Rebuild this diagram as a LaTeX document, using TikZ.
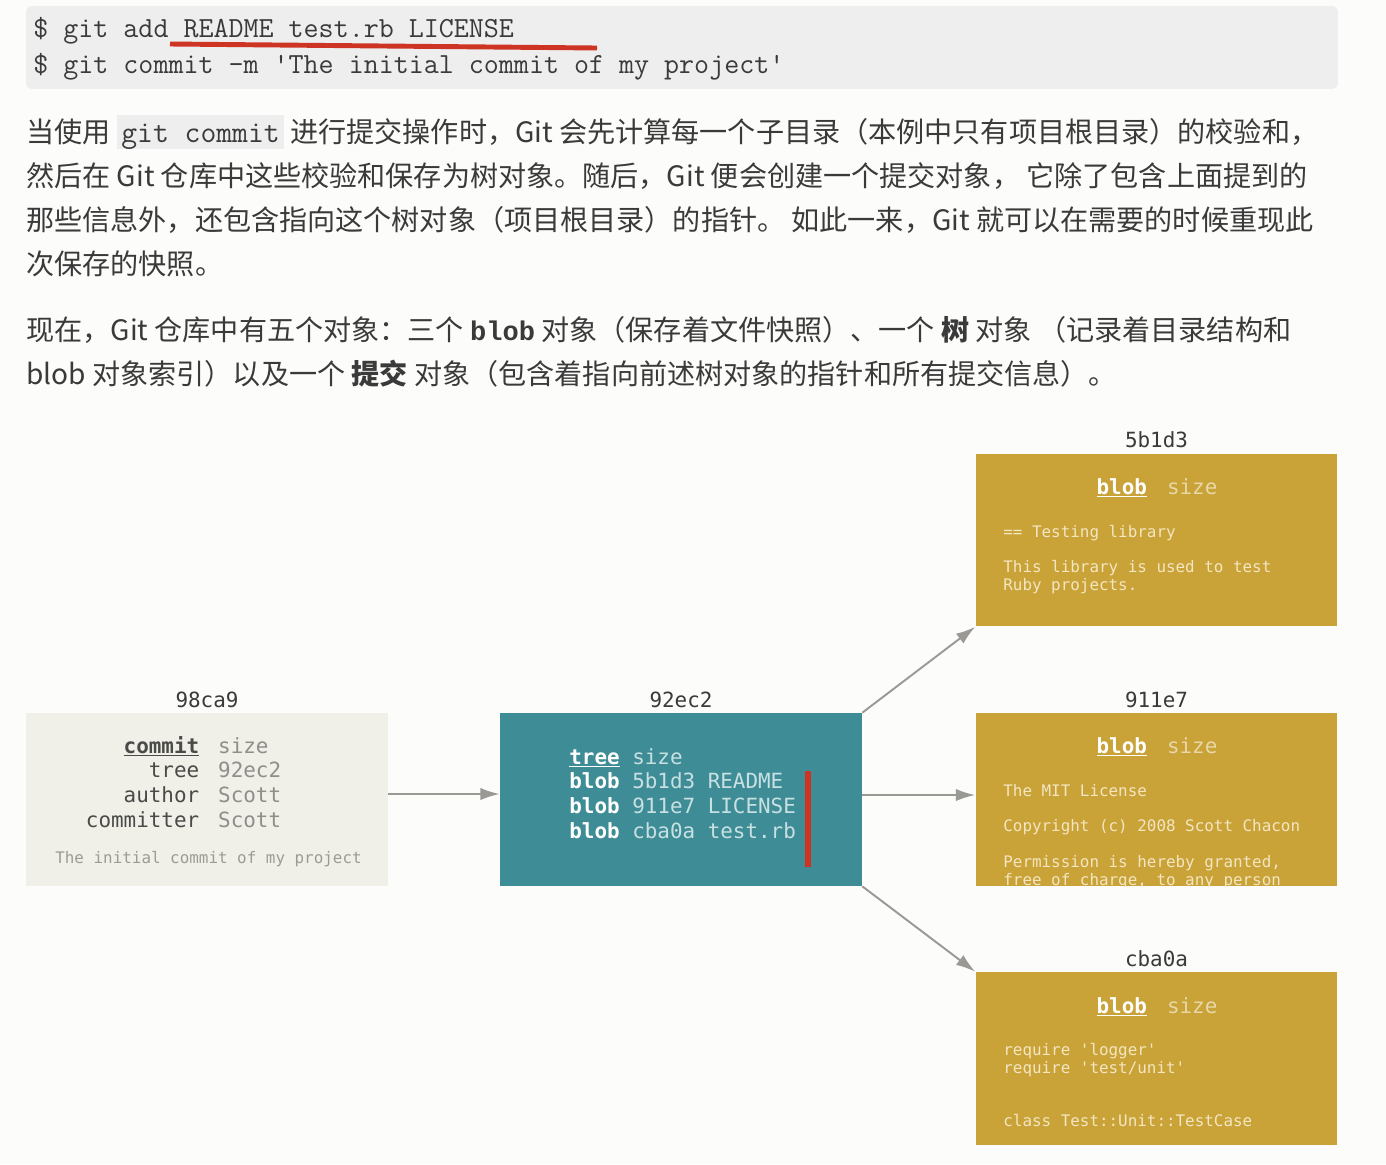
\documentclass[tikz,border=0pt]{standalone}
\usepackage{fontspec}
\setmainfont{Noto Sans CJK SC}
\newfontfamily\objfont{DejaVu Sans Mono}
\newfontfamily\boldmono{Liberation Mono}
\usetikzlibrary{arrows.meta,positioning}

\definecolor{pagebg}{HTML}{FCFCFA}
\definecolor{codebg}{HTML}{EEEEEE}
\definecolor{inktext}{HTML}{3A3A3A}
\definecolor{commitbg}{HTML}{F0EFE8}
\definecolor{treebg}{HTML}{3E8D96}
\definecolor{blobbg}{HTML}{C9A238}
\definecolor{arrowgray}{HTML}{9B9994}
\definecolor{markred}{HTML}{CD3424}
\definecolor{keygray}{HTML}{4A4A48}
\definecolor{valgray}{HTML}{8E8E8A}
\definecolor{msggray}{HTML}{9C9C97}
\definecolor{treeval}{HTML}{C8E0E2}
\definecolor{blobval}{HTML}{E8D8A8}
\definecolor{blobtext}{HTML}{F3E6C0}

\newcommand\inlinecode[1]{{\setlength\fboxsep{0pt}\colorbox{codebg}{%
  \rule[-4pt]{0pt}{19.4pt}\hspace{2.5pt}\fontsize{17.5}{18}\ttfamily #1\hspace{2.5pt}}}}
\newcommand\boldcode[1]{{\fontsize{15.4}{18}\boldmono\bfseries #1}}
\newcommand\objhead[1]{\underline{\textbf{#1}}}

\tikzset{
  git schemes/.style = {
    x = 0.02cm, y = -0.02cm,
    % text lines
    txt/.style  = {anchor=base west, inner sep=0pt, text=inktext,
                   font=\fontsize{16}{18}\selectfont},
    code/.style = {txt, font=\fontsize{16.6}{18}\ttfamily},
    % objects
    obj/.style        = {minimum width=7.24cm, minimum height=3.46cm, inner sep=0pt},
    commit obj/.style = {obj, fill=commitbg},
    tree obj/.style   = {obj, fill=treebg},
    blob obj/.style   = {obj, fill=blobbg},
    hash/.style       = {above=0.1cm of ##1, inner sep=0pt, text=inktext,
                         font=\objfont\fontsize{11.9}{14.2}\selectfont},
    objtxt/.style     = {anchor=base west, inner sep=0pt,
                         font=\objfont\fontsize{11.9}{14.2}\selectfont},
    smalltxt/.style   = {anchor=base west, inner sep=0pt, text=blobtext,
                         font=\objfont\fontsize{9.05}{10.24}\selectfont},
    % arrows
    connect line/.style = {line width=1.1pt, arrowgray, -{Latex[length=11pt,width=7pt]}},
    mark line/.style    = {line width=2.8pt, markred},
  }
}

\begin{document}
\begin{tikzpicture}[git schemes]

  \path[use as bounding box, fill=pagebg] (0,0) rectangle (1386,1164);

  % shell commands
  \node[fill=codebg, rounded corners=3pt, minimum width=26.24cm,
        minimum height=1.66cm, inner sep=0pt] (codeblock) at (682,47.5) {};
  \node[code] (cmd-1) at (33,37) {\$ git add README test.rb LICENSE};
  \node[code] (cmd-2) at (33,73) {\$ git commit -m 'The initial commit of my project'};
  \draw[mark line] (170,44) -- (597,48);

  % text
  \node[txt] (p1-1) at (26,142) {当使用 \inlinecode{git commit} 进行提交操作时，Git 会先计算每一个子目录（本例中只有项目根目录）的校验和，};
  \node[txt] (p1-2) at (26,186) {然后在 Git 仓库中这些校验和保存为树对象。随后，Git 便会创建一个提交对象， 它除了包含上面提到的};
  \node[txt] (p1-3) at (26,230) {那些信息外，还包含指向这个树对象（项目根目录）的指针。 如此一来，Git 就可以在需要的时候重现此};
  \node[txt] (p1-4) at (26,274) {次保存的快照。};
  \node[txt] (p2-1) at (26,340) {现在，Git 仓库中有五个对象：三个 \boldcode{blob} 对象（保存着文件快照）、一个 \textbf{树} 对象 （记录着目录结构和};
  \node[txt] (p2-2) at (26,384) {blob 对象索引）以及一个 \textbf{提交} 对象（包含着指向前述树对象的指针和所有提交信息）。};

  % objects
  \node[commit obj] (commit) at (207,799.5) {};
  \node[tree obj]   (tree)   at (681,799.5) {};
  \node[blob obj]   (blob-1) at (1156.5,540) {};
  \node[blob obj]   (blob-2) at (1156.5,799.5) {};
  \node[blob obj]   (blob-3) at (1156.5,1058.5) {};

  \node[hash=commit] (commit-id) {98ca9};
  \node[hash=tree]   (tree-id)   {92ec2};
  \node[hash=blob-1] (blob-1-id) {5b1d3};
  \node[hash=blob-2] (blob-2-id) {911e7};
  \node[hash=blob-3] (blob-3-id) {cba0a};

  % commit
  \node[objtxt, text=keygray] (commit-head) at (85.6,753) {%
    \begin{tabular}[t]{@{}r@{\hspace{10.8pt}}l@{}}
      \objhead{commit} & \color{valgray}size  \\
      tree             & \color{valgray}92ec2 \\
      author           & \color{valgray}Scott \\
      committer        & \color{valgray}Scott
    \end{tabular}};
  \node[smalltxt, text=msggray] (commit-msg) at (55,863) {The initial commit of my project};

  % tree
  \node[objtxt, text=white] (tree-list) at (569,764) {%
    \begin{tabular}[t]{@{}l@{}}
      \objhead{tree} {\color{treeval}size}          \\
      \textbf{blob} {\color{treeval}5b1d3 README}  \\
      \textbf{blob} {\color{treeval}911e7 LICENSE} \\
      \textbf{blob} {\color{treeval}cba0a test.rb}
    \end{tabular}};
  \fill[markred] (805,771) rectangle (811,867);

  % blobs
  \foreach \b/\y in {1/494, 2/753, 3/1013}
    \node[objtxt, anchor=base, text=white] (blob-\b-head) at (1157,\y)
      {\objhead{blob}\hspace{11.4pt}{\color{blobval}size}};

  \begin{scope}
    \clip (blob-1.south west) rectangle (blob-1.north east);
    \node[smalltxt] (blob-1-text) at (1003,537) {%
      \begin{tabular}[t]{@{}l@{}}
        == Testing library\\ \\ This library is used to test\\ Ruby projects.
      \end{tabular}};
  \end{scope}
  \begin{scope}
    \clip (blob-2.south west) rectangle (blob-2.north east);
    \node[smalltxt] (blob-2-text) at (1003,796) {%
      \begin{tabular}[t]{@{}l@{}}
        The MIT License\\ \\ Copyright (c) 2008 Scott Chacon\\ \\
        Permission is hereby granted,\\ free of charge, to any person
      \end{tabular}};
  \end{scope}
  \begin{scope}
    \clip (blob-3.south west) rectangle (blob-3.north east);
    \node[smalltxt] (blob-3-text) at (1003,1055) {%
      \begin{tabular}[t]{@{}l@{}}
        require 'logger'\\ require 'test/unit'\\ \\ \\ class Test::Unit::TestCase
      \end{tabular}};
  \end{scope}

  % pointers
  \draw[connect line] ([yshift=0.11cm]commit.east) -- ([yshift=0.11cm]tree.west);
  \draw[connect line] (tree.north east) -- (blob-1.south west);
  \draw[connect line] ([yshift=0.09cm]tree.east) -- ([yshift=0.09cm]blob-2.west);
  \draw[connect line] (tree.south east) -- (blob-3.north west);

\end{tikzpicture}
\end{document}
